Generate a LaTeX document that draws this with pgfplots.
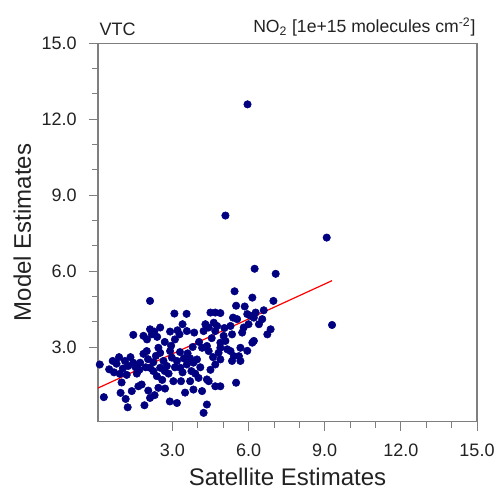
\documentclass[border=0pt]{standalone}
\usepackage{pgfplots}
\pgfplotsset{compat=1.18}
\usepackage{fontspec}
\setmainfont{Liberation Sans}
\definecolor{dotblue}{HTML}{000080}
\definecolor{framegray}{HTML}{7F7F7F}
\definecolor{txt}{HTML}{222222}

\begin{document}
\begin{tikzpicture}
\begin{axis}[
    name=ax,
    scale only axis,
    width=284.25pt, height=284pt,
    xmin=0.07, xmax=15, ymin=0.05, ymax=15,
    xtick={3,6,9,12,15}, ytick={3,6,9,12,15},
    minor tick num=2,
    xtick pos=bottom, ytick pos=left,
    tick align=outside,
    major tick length=7pt, minor tick length=4.5pt,
    axis line style={framegray, line width=0.8pt},
    every tick/.style={framegray, line width=0.6pt},
    /pgf/number format/.cd, fixed, fixed zerofill, precision=1, assume math mode=true,
    /pgfplots/.cd,
    tick label style={font=\fontsize{13.5}{15}\selectfont, text=txt},
    xticklabel style={yshift=-6pt},
    yticklabel style={xshift=-5.5pt},
    xlabel={Satellite Estimates}, ylabel={Model Estimates},
    label style={font=\fontsize{18}{20}\selectfont, text=txt},
    xlabel style={yshift=-2pt},
    ylabel style={yshift=1pt},
    clip=false,
]
\addplot[only marks, mark=*, mark size=2.8pt, color=dotblue, mark options={draw=none, fill=dotblue}] coordinates {
(5.96,12.58) (5.09,8.19) (9.08,7.32) (6.24,6.09) (7.07,5.89) (9.29,3.87)
(6.15,4.95) (6.98,4.82) (5.51,4.63) (4.50,4.36) (4.69,4.36) (4.89,4.34)
(5.39,4.16) (5.95,4.30) (6.08,4.23) (6.28,4.36) (6.21,4.16) (6.54,4.10)
(6.41,3.90) (6.87,3.70) (6.74,3.50) (5.81,3.77) (5.75,3.57) (5.29,3.83)
(5.35,3.50) (4.63,3.96) (4.76,3.83) (4.69,3.63) (4.30,3.90) (4.23,3.63)
(5.02,3.44) (5.09,3.24) (4.89,3.17) (6.15,3.17) (6.21,3.24) (5.68,2.97)
(5.62,2.64) (5.68,2.45) (5.42,2.64) (5.35,2.45) (4.89,2.97) (5.16,2.91)
(5.29,2.84) (4.82,2.77) (4.43,2.84) (4.36,3.04) (4.17,2.97) (4.69,2.31)
(4.89,2.51) (4.36,1.72) (4.43,1.65) (4.69,1.45) (4.89,1.45) (5.51,1.59)
(4.17,1.26) (4.36,0.73) (4.23,0.40)
(2.12,4.82) (3.08,4.32) (3.56,4.31) (1.46,3.48) (1.86,3.44) (2.12,3.70)
(2.29,3.61) (2.52,3.77) (2.19,3.50) (2.91,3.61) (3.20,3.66) (3.28,3.50)
(3.57,3.63) (3.86,3.57) (4.43,3.77)
(0.14,2.31) (0.51,2.12) (0.80,2.34) (0.93,1.94) (1.13,2.45) (1.26,2.25)
(1.46,2.38) (1.73,2.38) (1.86,2.73) (1.99,2.84) (2.12,2.18) (2.04,2.52)
(2.45,2.97) (2.52,2.77) (2.91,2.84) (2.98,2.58) (3.18,2.45) (2.25,2.05)
(2.39,1.85) (2.52,2.18) (2.78,2.25) (3.31,2.18) (3.57,2.31) (3.83,2.38)
(3.97,2.51) (3.04,1.65) (3.34,1.65) (3.70,1.65) (4.03,1.78)
(0.96,1.19) (1.16,0.95) (1.24,0.62) (0.30,1.02) (1.40,1.26) (1.66,1.45)
(1.79,1.52) (2.05,1.28) (2.12,0.99) (2.45,1.39) (2.71,1.36) (3.18,0.79)
(3.83,1.32)
(0.65,2.45) (0.90,2.60) (1.05,2.15) (1.35,2.60) (1.55,2.20) (1.60,1.95)
(1.00,1.60) (1.95,2.20) (2.25,2.40) (2.35,2.65) (2.65,2.45) (2.70,2.05)
(2.85,1.95) (3.10,2.20) (3.45,2.55) (3.60,2.75) (3.40,2.00) (3.75,2.05)
(3.90,1.95) (2.60,1.70) (2.95,3.05) (3.30,2.80) (3.70,2.55) (3.10,3.30)
(2.70,3.20) (1.70,2.10) (1.20,1.90) (0.70,2.00) (2.00,3.30) (2.40,3.40)
(3.40,3.90) (3.80,3.00) (4.05,3.20) (4.55,3.35) (4.10,2.20) (4.50,2.10)
(2.30,1.10) (3.50,1.20) (2.90,0.85) (1.90,0.70) (5.45,5.20) (5.85,4.60)
(6.00,3.90) (6.60,4.45) (5.55,4.10) (5.05,3.75) (5.95,2.85) (4.60,2.60)
};
\addplot[red, line width=0.9pt] coordinates {(0.07,1.38) (9.29,5.62)};
\end{axis}
\node[anchor=south west, inner sep=0pt, font=\fontsize{13.5}{15}\selectfont, text=txt]
  at ([xshift=1pt, yshift=5pt]ax.north west) {VTC};
\node[anchor=south east, inner sep=0pt, font=\fontsize{13.2}{15}\selectfont, text=txt]
  at ([xshift=-1pt, yshift=5pt]ax.north east) {NO\textsubscript{2} [1e+15 molecules cm\textsuperscript{-2}]};
\pgfresetboundingbox
\path[use as bounding box] ([shift={(-73.5pt,-52.7pt)}]ax.south west) rectangle ([shift={(298.5pt,316.3pt)}]ax.south west);
\end{tikzpicture}
\end{document}
